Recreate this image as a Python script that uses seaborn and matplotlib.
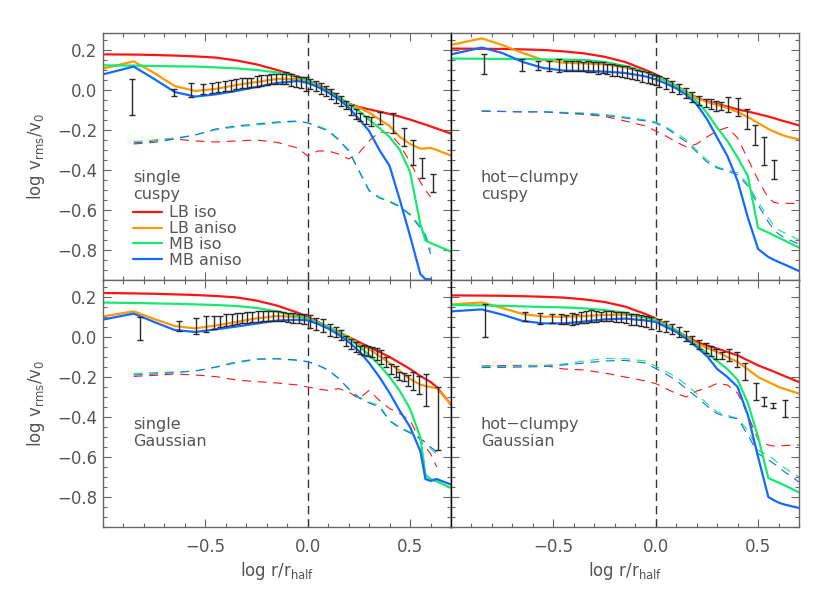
import numpy as np
import seaborn as sns
import matplotlib
matplotlib.use("Agg")
import matplotlib.pyplot as plt
import matplotlib.ticker as ticker
from matplotlib.lines import Line2D

sns.set_style("ticks")
plt.rcParams['font.family'] = ['DejaVu Sans']
plt.rcParams['mathtext.fontset'] = 'dejavusans'

nan = np.nan

# common radius grid (log r / r_half) for the model curves
r_grid = [-1.0, -0.85, -0.75, -0.65, -0.55, -0.45, -0.35, -0.25, -0.15, -0.05, 0.0, 0.05, 0.1,
          0.15, 0.2, 0.25, 0.3, 0.35, 0.4, 0.45, 0.5, 0.55, 0.575, 0.6, 0.63, 0.7]

# ---- single / cuspy ----
sc_lb_iso = [0.178, 0.177, 0.175, 0.172, 0.168, 0.162, 0.148, 0.128, 0.1, 0.068, 0.048, 0.025, 0.0,
             -0.035, -0.068, -0.085, -0.097, -0.108, -0.12, -0.133, -0.148, -0.165, -0.173, -0.182, -0.193, -0.218]
sc_lb_aniso = [0.107, 0.143, 0.085, 0.02, -0.005, 0.005, 0.025, 0.04, 0.055, 0.055, 0.04, 0.015, -0.01,
               -0.04, -0.07, -0.088, -0.113, -0.147, -0.18, -0.235, -0.27, -0.293, -0.292, -0.29, -0.3, -0.328]
sc_mb_iso = [0.123, 0.122, 0.12, 0.118, 0.117, 0.113, 0.108, 0.1, 0.088, 0.065, 0.045, 0.022, -0.005,
             -0.035, -0.07, -0.105, -0.15, -0.19, -0.235, -0.3, -0.41, -0.67, -0.752, -0.765, -0.778, -0.808]
sc_mb_aniso = [0.078, 0.117, 0.055, -0.01, -0.033, -0.022, -0.005, 0.015, 0.035, 0.045, 0.035, 0.015, -0.013,
               -0.045, -0.088, -0.145, -0.205, -0.3, -0.38, -0.55, -0.73, -0.92, -0.946, -0.946, nan, nan]
sc_disp_lb = [nan, -0.265, -0.255, -0.245, -0.255, -0.26, -0.255, -0.25, -0.262, -0.29, -0.33, -0.305, -0.305,
              -0.32, -0.345, -0.315, -0.255, -0.21, -0.215, -0.275, -0.36, -0.46, -0.5, -0.535, nan, nan]
sc_disp_mbi = [nan, -0.258, -0.25, -0.24, -0.225, -0.2, -0.185, -0.175, -0.165, -0.158, -0.163, -0.18, -0.2,
               -0.245, -0.3, -0.4, -0.5, -0.535, -0.555, -0.58, -0.62, -0.68, -0.72, -0.8, nan, nan]
sc_disp_mba = [nan, -0.27, -0.262, -0.245, -0.225, -0.195, -0.18, -0.17, -0.16, -0.155, -0.165, -0.185, -0.205,
               -0.25, -0.305, -0.405, -0.505, -0.54, -0.56, -0.585, -0.625, -0.69, -0.73, -0.82, nan, nan]
sc_obs_r = [-0.856, -0.653, -0.571, -0.51, -0.469, -0.437, -0.404, -0.375, -0.348, -0.323, -0.299, -0.275,
            -0.25, -0.226, -0.201, -0.177, -0.153, -0.128, -0.104, -0.08, -0.055, -0.031, -0.01, 0.01, 0.04,
            0.066, 0.09, 0.115, 0.14, 0.164, 0.188, 0.213, 0.237, 0.253, 0.283, 0.31, 0.354, 0.416, 0.472,
            0.516, 0.559, 0.614]
sc_obs_v = [-0.036, -0.012, 0.0, 0.003, 0.008, 0.016, 0.02, 0.024, 0.028, 0.033, 0.037, 0.038, 0.041, 0.047,
            0.05, 0.053, 0.053, 0.055, 0.06, 0.051, 0.042, 0.038, 0.03, 0.028, 0.02, 0.008, -0.005, -0.02,
            -0.038, -0.055, -0.076, -0.1, -0.12, -0.133, -0.151, -0.157, -0.139, -0.165, -0.236, -0.313,
            -0.39, -0.465]
sc_obs_e = [0.089, 0.018, 0.033, 0.025, 0.025, 0.026, 0.025, 0.027, 0.025, 0.025, 0.025, 0.023, 0.028, 0.028,
            0.025, 0.025, 0.025, 0.027, 0.032, 0.031, 0.028, 0.027, 0.035, 0.025, 0.025, 0.029, 0.025, 0.025,
            0.025, 0.025, 0.021, 0.025, 0.025, 0.02, 0.021, 0.022, 0.029, 0.048, 0.044, 0.062, 0.052, 0.045]

# ---- hot-clumpy / cuspy ----
hc_lb_iso = [0.207, 0.206, 0.205, 0.203, 0.2, 0.193, 0.183, 0.166, 0.14, 0.1, 0.078, 0.05, 0.02,
             -0.01, -0.038, -0.057, -0.07, -0.083, -0.097, -0.108, -0.12, -0.133, -0.14, -0.148, -0.157, -0.177]
hc_lb_aniso = [0.225, 0.258, 0.225, 0.185, 0.15, 0.136, 0.133, 0.128, 0.113, 0.088, 0.07, 0.045, 0.02,
               -0.01, -0.04, -0.06, -0.075, -0.09, -0.11, -0.135, -0.165, -0.195, -0.207, -0.218, -0.23, -0.247]
hc_mb_iso = [0.157, 0.156, 0.155, 0.155, 0.153, 0.152, 0.15, 0.14, 0.12, 0.09, 0.07, 0.045, 0.02,
             -0.015, -0.055, -0.115, -0.188, -0.255, -0.338, -0.43, -0.69, -0.713, -0.726, -0.738, -0.753, -0.788]
hc_mb_aniso = [0.178, 0.212, 0.185, 0.14, 0.11, 0.097, 0.095, 0.092, 0.085, 0.068, 0.053, 0.032, 0.008,
               -0.025, -0.072, -0.145, -0.238, -0.33, -0.455, -0.638, -0.795, -0.835, -0.848, -0.86, -0.873, -0.905]
hc_disp_lb = [nan, -0.105, -0.107, -0.11, -0.108, -0.115, -0.122, -0.132, -0.155, -0.18, -0.205, -0.23, -0.26,
              -0.285, -0.27, -0.235, -0.205, -0.187, -0.24, -0.345, -0.45, -0.54, -0.56, -0.567, -0.567, -0.567]
hc_disp_mbi = [nan, -0.105, -0.107, -0.108, -0.108, -0.112, -0.115, -0.122, -0.135, -0.15, -0.16, -0.185, -0.215,
               -0.25, -0.3, -0.35, -0.385, -0.4, -0.415, -0.47, -0.56, -0.64, -0.675, -0.7, -0.715, -0.75]
hc_disp_mba = [nan, -0.106, -0.108, -0.109, -0.11, -0.115, -0.12, -0.128, -0.14, -0.155, -0.165, -0.19, -0.225,
               -0.26, -0.31, -0.36, -0.39, -0.405, -0.425, -0.48, -0.575, -0.66, -0.695, -0.72, -0.74, -0.77]
hc_obs_r = [-0.838, -0.655, -0.573, -0.52, -0.473, -0.44, -0.41, -0.38, -0.355, -0.33, -0.305, -0.28, -0.26,
            -0.24, -0.215, -0.19, -0.165, -0.14, -0.115, -0.09, -0.065, -0.04, -0.02, 0.0, 0.016, 0.049, 0.081,
            0.114, 0.146, 0.178, 0.211, 0.244, 0.268, 0.292, 0.317, 0.354, 0.401, 0.446, 0.487, 0.529, 0.576]
hc_obs_v = [0.13, 0.123, 0.122, 0.122, 0.124, 0.122, 0.12, 0.118, 0.118, 0.117, 0.115, 0.11, 0.111, 0.105,
            0.1, 0.098, 0.094, 0.09, 0.083, 0.075, 0.068, 0.062, 0.057, 0.05, 0.043, 0.033, 0.018, 0.005,
            -0.013, -0.036, -0.053, -0.066, -0.072, -0.08, -0.08, -0.074, -0.084, -0.145, -0.225, -0.305, -0.398]
hc_obs_e = [0.05, 0.03, 0.024, 0.025, 0.033, 0.025, 0.025, 0.025, 0.023, 0.028, 0.027, 0.028, 0.027, 0.025,
            0.028, 0.027, 0.027, 0.028, 0.027, 0.027, 0.027, 0.027, 0.025, 0.025, 0.029, 0.029, 0.029, 0.025,
            0.025, 0.025, 0.022, 0.021, 0.025, 0.025, 0.022, 0.037, 0.046, 0.048, 0.05, 0.07, 0.048]

# ---- single / Gaussian ----
sg_lb_iso = [0.22, 0.218, 0.216, 0.213, 0.21, 0.205, 0.198, 0.182, 0.157, 0.122, 0.1, 0.076, 0.05,
             0.025, 0.0, -0.025, -0.05, -0.075, -0.1, -0.13, -0.16, -0.195, -0.21, -0.225, -0.25, -0.338]
sg_lb_aniso = [0.103, 0.128, 0.09, 0.055, 0.043, 0.057, 0.075, 0.093, 0.105, 0.1, 0.092, 0.072, 0.05,
               0.025, 0.0, -0.035, -0.06, -0.095, -0.13, -0.17, -0.21, -0.238, -0.245, -0.25, -0.256, -0.338]
sg_mb_iso = [0.172, 0.17, 0.168, 0.166, 0.163, 0.16, 0.155, 0.145, 0.128, 0.105, 0.092, 0.072, 0.05,
             0.022, -0.008, -0.045, -0.09, -0.14, -0.2, -0.27, -0.36, -0.5, -0.69, -0.71, -0.722, -0.755]
sg_mb_aniso = [0.087, 0.117, 0.075, 0.035, 0.025, 0.038, 0.052, 0.067, 0.082, 0.086, 0.083, 0.065, 0.042,
               0.012, -0.025, -0.07, -0.13, -0.2, -0.28, -0.37, -0.45, -0.57, -0.71, -0.72, -0.71, -0.738]
sg_disp_lb = [nan, -0.197, -0.192, -0.185, -0.19, -0.198, -0.215, -0.223, -0.23, -0.24, -0.25, -0.26, -0.267,
              -0.258, -0.275, -0.308, -0.267, -0.317, -0.358, -0.383, -0.417, -0.517, -0.55, -0.583, -0.65, nan]
sg_disp_mbi = [nan, -0.183, -0.178, -0.175, -0.17, -0.152, -0.13, -0.113, -0.11, -0.118, -0.125, -0.142, -0.167,
               -0.208, -0.258, -0.3, -0.325, -0.342, -0.417, -0.45, -0.475, -0.508, -0.53, -0.558, -0.585, nan]
sg_disp_mba = [nan, -0.19, -0.185, -0.178, -0.17, -0.15, -0.125, -0.11, -0.108, -0.115, -0.123, -0.14, -0.165,
               -0.205, -0.26, -0.305, -0.33, -0.35, -0.42, -0.455, -0.48, -0.51, -0.525, -0.55, -0.575, nan]
sg_obs_r = [-0.818, -0.628, -0.547, -0.498, -0.46, -0.43, -0.4, -0.37, -0.345, -0.32, -0.295, -0.27, -0.245,
            -0.22, -0.195, -0.17, -0.145, -0.12, -0.095, -0.07, -0.045, -0.02, 0.01, 0.042, 0.075, 0.107,
            0.14, 0.164, 0.188, 0.213, 0.234, 0.253, 0.273, 0.294, 0.315, 0.338, 0.359, 0.383, 0.407, 0.429,
            0.448, 0.468, 0.492, 0.516, 0.542, 0.578, 0.638]
sg_obs_v = [0.043, 0.055, 0.057, 0.065, 0.073, 0.077, 0.083, 0.087, 0.093, 0.097, 0.098, 0.1, 0.103, 0.104,
            0.105, 0.107, 0.104, 0.102, 0.098, 0.095, 0.092, 0.088, 0.078, 0.064, 0.057, 0.036, 0.024, 0.01,
            -0.018, -0.035, -0.052, -0.064, -0.067, -0.068, -0.077, -0.085, -0.1, -0.127, -0.16, -0.172,
            -0.194, -0.2, -0.217, -0.22, -0.24, -0.264, -0.408]
sg_obs_e = [0.057, 0.025, 0.04, 0.038, 0.033, 0.028, 0.03, 0.028, 0.026, 0.025, 0.027, 0.025, 0.027, 0.025,
            0.025, 0.025, 0.025, 0.023, 0.023, 0.023, 0.023, 0.025, 0.032, 0.03, 0.033, 0.03, 0.025, 0.025,
            0.025, 0.025, 0.025, 0.021, 0.025, 0.025, 0.025, 0.029, 0.033, 0.025, 0.025, 0.029, 0.021, 0.021,
            0.029, 0.046, 0.046, 0.08, 0.158]

# ---- hot-clumpy / Gaussian ----
hg_lb_iso = [0.208, 0.207, 0.206, 0.204, 0.201, 0.197, 0.188, 0.175, 0.152, 0.115, 0.092, 0.063, 0.033,
             0.003, -0.025, -0.042, -0.058, -0.075, -0.092, -0.117, -0.142, -0.162, -0.172, -0.183, -0.196, -0.225]
hg_lb_aniso = [0.162, 0.173, 0.145, 0.115, 0.102, 0.101, 0.105, 0.11, 0.112, 0.098, 0.087, 0.06, 0.033,
               0.0, -0.033, -0.055, -0.075, -0.1, -0.125, -0.162, -0.2, -0.225, -0.237, -0.25, -0.26, -0.283]
hg_mb_iso = [0.16, 0.158, 0.156, 0.153, 0.15, 0.148, 0.143, 0.135, 0.12, 0.098, 0.083, 0.058, 0.033,
             -0.003, -0.042, -0.08, -0.12, -0.16, -0.215, -0.33, -0.5, -0.705, -0.717, -0.728, -0.742, -0.777]
hg_mb_aniso = [0.128, 0.138, 0.112, 0.08, 0.068, 0.068, 0.077, 0.088, 0.092, 0.083, 0.075, 0.05, 0.025,
               -0.01, -0.05, -0.095, -0.16, -0.2, -0.25, -0.39, -0.6, -0.8, -0.815, -0.828, -0.838, -0.855]
hg_disp_lb = [nan, -0.145, -0.143, -0.142, -0.142, -0.16, -0.165, -0.18, -0.2, -0.22, -0.233, -0.258, -0.283,
              -0.3, -0.27, -0.255, -0.232, -0.24, -0.28, -0.39, -0.515, -0.54, -0.545, -0.545, -0.543, -0.54]
hg_disp_mbi = [nan, -0.147, -0.147, -0.145, -0.142, -0.135, -0.12, -0.108, -0.108, -0.12, -0.147, -0.172, -0.2,
               -0.24, -0.283, -0.333, -0.375, -0.392, -0.408, -0.467, -0.567, -0.592, -0.61, -0.633, -0.655, -0.7]
hg_disp_mba = [nan, -0.153, -0.152, -0.15, -0.148, -0.14, -0.13, -0.12, -0.117, -0.13, -0.158, -0.185, -0.217,
               -0.26, -0.3, -0.345, -0.383, -0.4, -0.408, -0.49, -0.583, -0.615, -0.632, -0.65, -0.675, -0.725]
hg_obs_r = [-0.833, -0.641, -0.565, -0.508, -0.463, -0.438, -0.409, -0.39, -0.365, -0.341, -0.317, -0.292,
            -0.268, -0.244, -0.219, -0.195, -0.17, -0.146, -0.122, -0.097, -0.073, -0.049, -0.024, 0.016,
            0.049, 0.081, 0.113, 0.146, 0.178, 0.211, 0.244, 0.268, 0.292, 0.325, 0.36, 0.398, 0.435, 0.49,
            0.529, 0.575, 0.63]
hg_obs_v = [0.083, 0.103, 0.093, 0.093, 0.092, 0.089, 0.09, 0.092, 0.097, 0.1, 0.104, 0.103, 0.102, 0.105,
            0.104, 0.1, 0.1, 0.097, 0.089, 0.088, 0.081, 0.077, 0.071, 0.061, 0.053, 0.04, 0.024, 0.007,
            -0.014, -0.037, -0.057, -0.07, -0.085, -0.093, -0.089, -0.114, -0.173, -0.273, -0.322, -0.343, -0.357]
hg_obs_e = [0.083, 0.022, 0.027, 0.023, 0.025, 0.022, 0.029, 0.025, 0.029, 0.03, 0.029, 0.027, 0.023, 0.025,
            0.024, 0.025, 0.025, 0.029, 0.027, 0.029, 0.027, 0.027, 0.029, 0.029, 0.029, 0.025, 0.025, 0.025,
            0.021, 0.021, 0.025, 0.025, 0.025, 0.017, 0.029, 0.037, 0.042, 0.042, 0.021, 0.012, 0.042]

model_names = ["LB iso", "LB aniso", "MB iso", "MB aniso"]
model_colors = ["#ff1414", "#ff9900", "#14eb6e", "#1469ff"]
disp_colors = ["#ff1414", "#14eb6e", "#1469ff"]
text_color = "#555555"

panels = [
    ("single\ncuspy", [sc_lb_iso, sc_lb_aniso, sc_mb_iso, sc_mb_aniso],
     [sc_disp_lb, sc_disp_mbi, sc_disp_mba], sc_obs_r, sc_obs_v, sc_obs_e),
    ("hot\u2212clumpy\ncuspy", [hc_lb_iso, hc_lb_aniso, hc_mb_iso, hc_mb_aniso],
     [hc_disp_lb, hc_disp_mbi, hc_disp_mba], hc_obs_r, hc_obs_v, hc_obs_e),
    ("single\nGaussian", [sg_lb_iso, sg_lb_aniso, sg_mb_iso, sg_mb_aniso],
     [sg_disp_lb, sg_disp_mbi, sg_disp_mba], sg_obs_r, sg_obs_v, sg_obs_e),
    ("hot\u2212clumpy\nGaussian", [hg_lb_iso, hg_lb_aniso, hg_mb_iso, hg_mb_aniso],
     [hg_disp_lb, hg_disp_mbi, hg_disp_mba], hg_obs_r, hg_obs_v, hg_obs_e),
]

fig, axes = plt.subplots(2, 2, figsize=(8.3, 5.93), dpi=100, sharex=True, sharey=True)
fig.subplots_adjust(left=0.1241, right=0.9627, bottom=0.1113, top=0.9444, wspace=0, hspace=0)

for ax, (title, models, disps, obs_r, obs_v, obs_e) in zip(axes.flat, panels):
    # thin dashed curves
    for vals, col in zip(disps, disp_colors):
        sns.lineplot(x=r_grid, y=vals, ax=ax, color=col, linewidth=0.8, linestyle=(0, (8, 6)),
                     estimator=None, sort=False, legend=False)
    # thick model curves
    for vals, col, name in zip(models, model_colors, model_names):
        sns.lineplot(x=r_grid, y=vals, ax=ax, color=col, linewidth=1.6, estimator=None, sort=False,
                     legend=False)
    ax.errorbar(obs_r, obs_v, yerr=obs_e, fmt="none", ecolor="#2a2a2a", elinewidth=1.0, capsize=2.2,
                capthick=1.0, zorder=4)
    ax.axvline(0.0, color="#333333", linewidth=1.0, linestyle=(0, (6, 3.5)), zorder=1)

    ax.text(0.086, 0.445, title, transform=ax.transAxes, ha="left", va="top", fontsize=11.5,
            color=text_color, linespacing=1.12)

    ax.set_xlim(-1.0, 0.7)
    ax.set_ylim(-0.95, 0.285)
    ax.xaxis.set_major_locator(ticker.FixedLocator([-0.5, 0.0, 0.5]))
    ax.xaxis.set_minor_locator(ticker.MultipleLocator(0.1))
    ax.yaxis.set_major_locator(ticker.MultipleLocator(0.2))
    ax.yaxis.set_minor_locator(ticker.MultipleLocator(0.05))
    ax.tick_params(which="both", direction="in", top=True, right=True, colors="#666666",
                   labelcolor=text_color, labelsize=12)
    ax.tick_params(which="major", length=5.5, width=0.8)
    ax.tick_params(which="minor", length=2.8, width=0.8)
    ax.tick_params(axis="y", pad=4)
    ax.tick_params(axis="x", pad=8)
    for side in ax.spines.values():
        side.set_color("#666666")
        side.set_linewidth(1.0)
    ax.set_xlabel("")
    ax.set_ylabel("")

for ax in axes[:, 1]:
    ax.spines["left"].set_color("black")
for ax in axes[:, 0]:
    ax.spines["right"].set_color("black")
    ax.set_ylabel(r"log v$_{\rm rms}$/v$_{\rm 0}$", fontsize=12, color=text_color, labelpad=7)
for ax in axes[1, :]:
    ax.set_xlabel(r"log r/r$_{\rm half}$", fontsize=12, color=text_color, labelpad=3)

handles = [Line2D([], [], color=c, linewidth=1.6) for c in model_colors]
axes[0, 0].legend(handles, model_names, loc="upper left", bbox_to_anchor=(0.086, 0.303),
                  frameon=False, fontsize=11.5, handlelength=1.85, handletextpad=0.4,
                  labelspacing=0.06, borderpad=0.0, borderaxespad=0.0, labelcolor=text_color)

fig.savefig("out.png", dpi=100)
